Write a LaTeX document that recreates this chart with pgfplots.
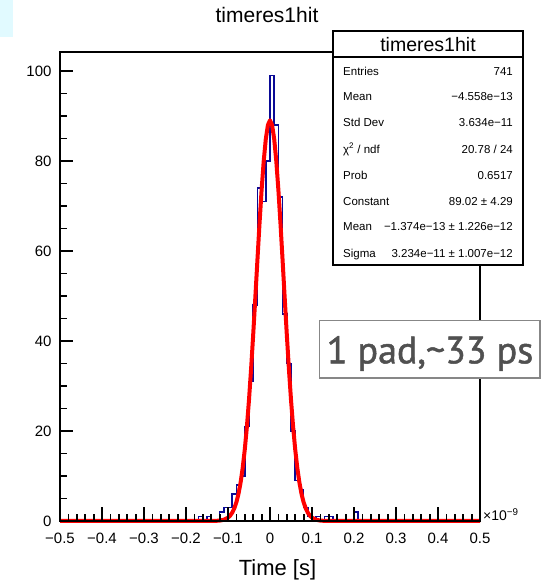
\documentclass[border=0pt]{standalone}
\usepackage{fontspec}
\setmainfont{Liberation Sans}
\newfontfamily\ptsans[FakeBold=1.3]{PT Sans}
\usepackage{pgfplots}
\pgfplotsset{compat=1.18}
\usepackage{pgfplotstable}
\definecolor{histblue}{RGB}{10,10,150}
\definecolor{lightcyan}{RGB}{225,250,255}
\definecolor{boxgray}{RGB}{135,135,135}
\definecolor{textgray}{RGB}{80,80,80}

% histogram: left bin edge, content (bin width 0.01 ns)
\pgfplotstableread{
x y
-0.50 0
-0.17 1
-0.16 0
-0.15 1
-0.14 0
-0.12 2
-0.11 3
-0.10 3
-0.09 6
-0.08 8
-0.07 10
-0.06 21
-0.05 31
-0.04 48
-0.03 74
-0.02 71
-0.01 80
0.00 99
0.01 88
0.02 72
0.03 46
0.04 35
0.05 20
0.06 9
0.07 7
0.08 3
0.09 1
0.10 0
0.11 1
0.12 0
0.13 1
0.14 1
0.15 0
0.20 2
0.21 0
0.50 0
}\histdata

% Gaussian fit curve, tabulated
\pgfplotstableread{
x y
-0.50 0
-0.20 0
-0.15 0.002
-0.13 0.028
-0.12 0.091
-0.11 0.274
-0.10 0.747
-0.095 1.190
-0.09 1.853
-0.085 2.815
-0.08 4.175
-0.075 6.049
-0.07 8.554
-0.065 11.81
-0.06 15.93
-0.055 20.96
-0.05 26.94
-0.045 33.81
-0.04 41.43
-0.035 49.56
-0.03 57.89
-0.025 66.03
-0.02 73.53
-0.015 79.94
-0.01 84.86
-0.005 87.96
0.000 89.02
0.005 87.96
0.01 84.86
0.015 79.94
0.02 73.53
0.025 66.03
0.03 57.89
0.035 49.56
0.04 41.43
0.045 33.81
0.05 26.94
0.055 20.96
0.06 15.93
0.065 11.81
0.07 8.554
0.075 6.049
0.08 4.175
0.085 2.815
0.09 1.853
0.095 1.190
0.10 0.747
0.11 0.274
0.12 0.091
0.13 0.028
0.15 0.002
0.20 0
0.50 0
}\fitdata

\begin{document}
\begin{tikzpicture}
\useasboundingbox (0pt,0pt) rectangle (557pt,581pt);
\fill[lightcyan] (0pt,544pt) rectangle (13pt,581pt);
\begin{axis}[
  at={(60pt,60pt)}, anchor=south west,
  scale only axis, width=420pt, height=469pt,
  xmin=-0.5, xmax=0.5, ymin=0, ymax=104.2,
  clip=false, axis on top,
  axis line style={line width=1.6pt},
  tick align=inside,
  xtick pos=bottom, ytick pos=left,
  xtick={-0.5,-0.4,-0.3,-0.2,-0.1,0,0.1,0.2,0.3,0.4,0.5},
  xticklabels={−0.5,−0.4,−0.3,−0.2,−0.1,0,0.1,0.2,0.3,0.4,0.5},
  minor x tick num=4,
  ytick={0,20,40,60,80,100},
  yticklabels={0,20,40,60,80,100},
  minor y tick num=3,
  major tick length=13pt, minor tick length=6.5pt,
  tick style={black, line width=1.8pt},
  tick label style={font=\fontsize{15}{15}\selectfont},
  xticklabel style={anchor=base, yshift=-22pt},
  yticklabel style={anchor=base east, xshift=-5pt, yshift=-5.4pt},
]
\addplot[const plot, histblue, line width=1.6pt] table[x=x,y=y] {\histdata};
\addplot[red, line width=4pt, line join=round] table[x=x,y=y] {\fitdata};
\node[anchor=base west, font=\fontsize{14}{14}\selectfont, inner sep=0pt, xshift=3pt] at (rel axis cs:1,0) {×10\textsuperscript{−9}};
\end{axis}
% x-axis tick marks (ROOT style: inside, bottom only)
\foreach \xx in {60,102,144,186,228,270,312,354,396,438,480} {
  \draw[black, line width=1.8pt] (\xx pt,59pt) -- (\xx pt,73.7pt);
}
\foreach \xx in {68.4,76.8,85.2,93.6,110.4,118.8,127.2,135.6,152.4,160.8,169.2,177.6,194.4,202.8,211.2,219.6,236.4,244.8,253.2,261.6,278.4,286.8,295.2,303.6,320.4,328.8,337.2,345.6,362.4,370.8,379.2,387.6,404.4,412.8,421.2,429.6,446.4,454.8,463.2,471.6} {
  \draw[black, line width=1.8pt] (\xx pt,59pt) -- (\xx pt,67pt);
}
\begin{scope}[x=1pt,y=1pt]
% title
\node[anchor=base, font=\fontsize{21}{21}\selectfont, inner sep=0pt] at (267,558.3) {timeres1hit};
% x label
\node[anchor=base, font=\fontsize{22}{22}\selectfont, inner sep=0pt] at (277.5,5.5) {Time [s]};
% stats box
\draw[line width=1.6pt, fill=white] (333,316) rectangle (523,550);
\draw[line width=1.6pt] (333,524) -- (523,524);
\node[anchor=base, font=\fontsize{19.5}{20}\selectfont, inner sep=0pt] at (428,529.5) {timeres1hit};
\begin{scope}[every node/.style={font=\fontsize{11.5}{12}\selectfont, inner sep=0pt}]
\node[anchor=base west] at (343,505.9) {Entries};
\node[anchor=base east] at (513,505.9) {741};
\node[anchor=base west] at (343,480.2) {Mean};
\node[anchor=base east] at (513,480.2) {−4.558e−13};
\node[anchor=base west] at (343,454.2) {Std Dev};
\node[anchor=base east] at (513,454.2) {3.634e−11};
\node[anchor=base west] at (343,427.9) {χ\textsuperscript{2} / ndf};
\node[anchor=base east] at (513,427.9) {20.78 / 24};
\node[anchor=base west] at (343,401.9) {Prob};
\node[anchor=base east] at (513,401.9) {0.6517};
\node[anchor=base west] at (343,375.2) {Constant};
\node[anchor=base east] at (513,375.2) {89.02 ± 4.29};
\node[anchor=base west] at (343,350.2) {Mean};
\node[anchor=base east] at (513,350.2) {−1.374e−13 ± 1.226e−12};
\node[anchor=base west] at (343,323.6) {Sigma};
\node[anchor=base east] at (513,323.6) {3.234e−11 ± 1.007e−12};
\end{scope}
% annotation box
\draw[boxgray, line width=1.6pt, fill=white] (319.5,202.7) rectangle (540,260.3);
\node[anchor=base, font=\ptsans\fontsize{38}{38}\selectfont, text=textgray, inner sep=0pt] at (430,217.7) {1 pad,\textasciitilde 33 ps};
\end{scope}
\end{tikzpicture}
\end{document}
